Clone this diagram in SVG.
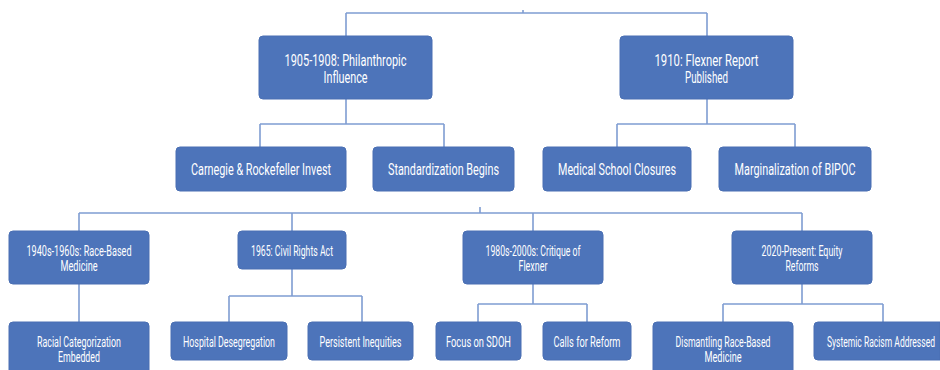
<svg xmlns="http://www.w3.org/2000/svg" width="940" height="370" viewBox="0 0 940 370">
<style>
.bg{fill:#ffffff}
.box{fill:#4d74ba;stroke:#4a6fb3;stroke-width:1}
.t{fill:#ffffff;font-family:Roboto,"DejaVu Sans Condensed",sans-serif;text-anchor:middle}
.t1{font-size:16.5px}
.t3{font-size:14px}
.c{fill:none;stroke:#7f9dd2;stroke-width:1.6}
</style>
<rect class="bg" x="0" y="0" width="940" height="370"/>
<g id="connectors">
<path class="c" d="M523 10 V13 M346 13 H707 M346 13 V36 M707 13 V36"/>
<path class="c" d="M346 99 V124 M260 124 H444 M260 124 V147 M444 124 V147"/>
<path class="c" d="M707 99 V124 M617 124 H795 M617 124 V147 M795 124 V147"/>
<path class="c" d="M480 207 V213 M79 213 H802 M79 213 V231 M292 213 V231 M533 213 V231 M802 213 V231"/>
<path class="c" d="M79 284 V322"/>
<path class="c" d="M292 269 V296 M229 296 H362 M229 296 V322 M362 296 V322"/>
<path class="c" d="M533 284 V304 M478 304 H587 M478 304 V322 M587 304 V322"/>
<path class="c" d="M802 284 V304 M723 304 H883 M723 304 V322 M883 304 V322"/>
</g>
<g id="n1"><rect class="box" x="259" y="36" width="173" height="63" rx="4"/><text class="t t1" x="345.5" y="65.5" textLength="122" lengthAdjust="spacingAndGlyphs">1905-1908: Philanthropic</text><text class="t t1" x="345.5" y="83" textLength="44" lengthAdjust="spacingAndGlyphs">Influence</text></g>
<g id="n2"><rect class="box" x="620" y="36" width="173" height="63" rx="4"/><text class="t t1" x="706.5" y="65.5" textLength="104" lengthAdjust="spacingAndGlyphs">1910: Flexner Report</text><text class="t t1" x="706.5" y="83" textLength="43" lengthAdjust="spacingAndGlyphs">Published</text></g>
<g id="n3"><rect class="box" x="176" y="147" width="170" height="44" rx="4"/><text class="t t1" x="261" y="175" textLength="140" lengthAdjust="spacingAndGlyphs">Carnegie &amp; Rockefeller Invest</text></g>
<g id="n4"><rect class="box" x="373" y="147" width="141" height="44" rx="4"/><text class="t t1" x="443.5" y="175" textLength="111" lengthAdjust="spacingAndGlyphs">Standardization Begins</text></g>
<g id="n5"><rect class="box" x="543" y="147" width="148" height="44" rx="4"/><text class="t t1" x="617" y="175" textLength="118" lengthAdjust="spacingAndGlyphs">Medical School Closures</text></g>
<g id="n6"><rect class="box" x="719" y="147" width="152" height="44" rx="4"/><text class="t t1" x="795" y="175" textLength="121" lengthAdjust="spacingAndGlyphs">Marginalization of BIPOC</text></g>
<g id="n7"><rect class="box" x="9" y="231" width="140" height="53" rx="4"/><text class="t t3" x="79" y="256" textLength="105" lengthAdjust="spacingAndGlyphs">1940s-1960s: Race-Based</text><text class="t t3" x="79" y="270.5" textLength="37" lengthAdjust="spacingAndGlyphs">Medicine</text></g>
<g id="n8"><rect class="box" x="238" y="231" width="108" height="38" rx="4"/><text class="t t3" x="292" y="256" textLength="82" lengthAdjust="spacingAndGlyphs">1965: Civil Rights Act</text></g>
<g id="n9"><rect class="box" x="463" y="231" width="140" height="53" rx="4"/><text class="t t3" x="533" y="256" textLength="95" lengthAdjust="spacingAndGlyphs">1980s-2000s: Critique of</text><text class="t t3" x="533" y="270.5" textLength="29" lengthAdjust="spacingAndGlyphs">Flexner</text></g>
<g id="n10"><rect class="box" x="732" y="231" width="140" height="53" rx="4"/><text class="t t3" x="802" y="256" textLength="81" lengthAdjust="spacingAndGlyphs">2020-Present: Equity</text><text class="t t3" x="802" y="270.5" textLength="33" lengthAdjust="spacingAndGlyphs">Reforms</text></g>
<g id="n11"><rect class="box" x="9" y="322" width="140" height="60" rx="4"/><text class="t t3" x="79" y="347" textLength="84" lengthAdjust="spacingAndGlyphs">Racial Categorization</text><text class="t t3" x="79" y="362" textLength="42" lengthAdjust="spacingAndGlyphs">Embedded</text></g>
<g id="n12"><rect class="box" x="171" y="322" width="116" height="38" rx="4"/><text class="t t3" x="229" y="346.5" textLength="92" lengthAdjust="spacingAndGlyphs">Hospital Desegregation</text></g>
<g id="n13"><rect class="box" x="308" y="322" width="105" height="38" rx="4"/><text class="t t3" x="360.5" y="346.5" textLength="82" lengthAdjust="spacingAndGlyphs">Persistent Inequities</text></g>
<g id="n14"><rect class="box" x="436" y="322" width="85" height="38" rx="4"/><text class="t t3" x="478.5" y="346.5" textLength="65" lengthAdjust="spacingAndGlyphs">Focus on SDOH</text></g>
<g id="n15"><rect class="box" x="543" y="322" width="88" height="38" rx="4"/><text class="t t3" x="587" y="346.5" textLength="67" lengthAdjust="spacingAndGlyphs">Calls for Reform</text></g>
<g id="n16"><rect class="box" x="653" y="322" width="140" height="60" rx="4"/><text class="t t3" x="723" y="347" textLength="95" lengthAdjust="spacingAndGlyphs">Dismantling Race-Based</text><text class="t t3" x="723" y="362" textLength="37" lengthAdjust="spacingAndGlyphs">Medicine</text></g>
<g id="n17"><path class="box" d="M818 322 H940 V360 H818 A4 4 0 0 1 814 356 V326 A4 4 0 0 1 818 322 Z"/><text class="t t3" x="881" y="346.5" textLength="108" lengthAdjust="spacingAndGlyphs">Systemic Racism Addressed</text></g>
</svg>
